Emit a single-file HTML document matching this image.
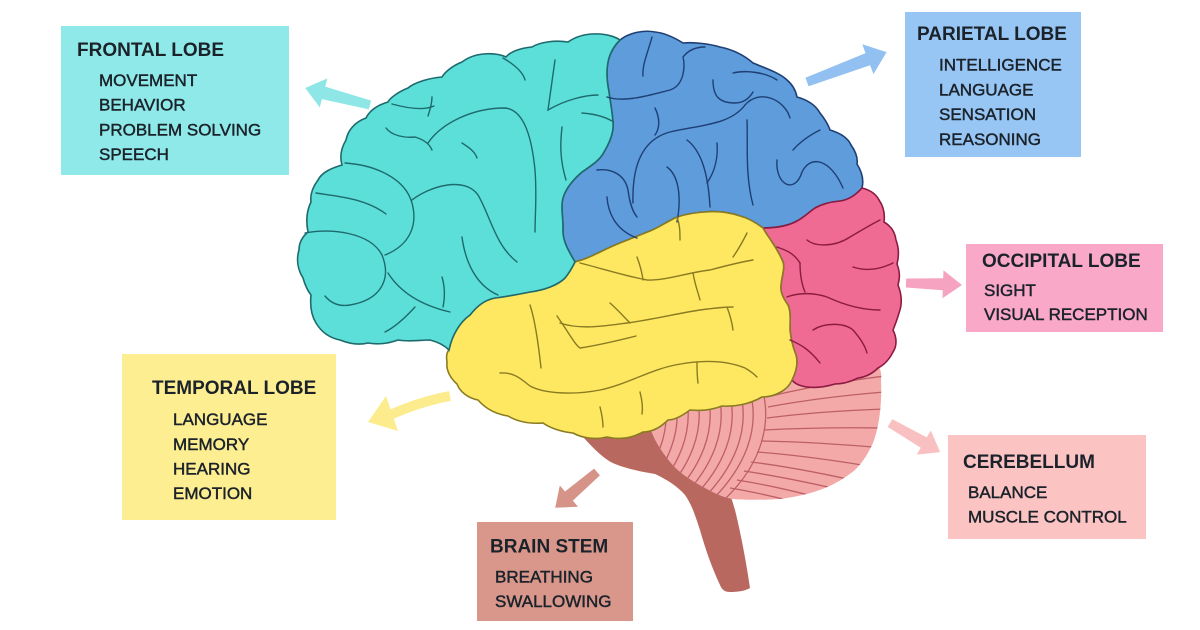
<!DOCTYPE html>
<html>
<head>
<meta charset="utf-8">
<style>
html,body{margin:0;padding:0;background:#ffffff;width:1200px;height:630px;overflow:hidden}
svg{display:block}
.t{font-family:"Liberation Sans",Arial,sans-serif;font-weight:bold;font-size:19px;fill:#1b222a}
.i{font-family:"Liberation Sans",Arial,sans-serif;font-size:17px;fill:#1b222a;stroke:#1b222a;stroke-width:0.45}
</style>
</head>
<body>
<svg width="1200" height="630" viewBox="0 0 1200 630" xmlns="http://www.w3.org/2000/svg">
<defs>
<clipPath id="cb">
<path d="M645,420 L800,370 L872,358 C880,365 882,372 881,380 C882,400 880,425 873,443 C866,458 860,465 855,470 C845,478 835,484 825,488 C810,494 795,497 780,499 C765,500 745,500 732,499 C722,497 712,492 705,488 C690,480 678,472 670,462 C662,452 656,443 652,433 Z"/>
</clipPath>
</defs>

<!-- boxes -->
<rect x="61" y="26" width="228" height="149" fill="#8fe9e9"/>
<rect x="905" y="12" width="176" height="145" fill="#97c6f5"/>
<rect x="966" y="244" width="197" height="88" fill="#f9a8c7"/>
<rect x="948" y="435" width="198" height="104" fill="#fcc3c3"/>
<rect x="122" y="354" width="214" height="166" fill="#fdef91"/>
<rect x="477" y="522" width="156" height="99" fill="#d9978b"/>

<!-- text -->
<text class="t" x="77" y="56">FRONTAL LOBE</text>
<text class="i" x="99" y="86">MOVEMENT</text>
<text class="i" x="99" y="110.7">BEHAVIOR</text>
<text class="i" x="99" y="135.3">PROBLEM SOLVING</text>
<text class="i" x="99" y="160">SPEECH</text>

<text class="t" x="917" y="40">PARIETAL LOBE</text>
<text class="i" x="939" y="70.5">INTELLIGENCE</text>
<text class="i" x="939" y="95.3">LANGUAGE</text>
<text class="i" x="939" y="120.2">SENSATION</text>
<text class="i" x="939" y="145">REASONING</text>

<text class="t" x="982" y="267">OCCIPITAL LOBE</text>
<text class="i" x="984" y="296">SIGHT</text>
<text class="i" x="984" y="320">VISUAL RECEPTION</text>

<text class="t" x="963" y="468">CEREBELLUM</text>
<text class="i" x="968" y="498">BALANCE</text>
<text class="i" x="968" y="522.5">MUSCLE CONTROL</text>

<text class="t" x="152" y="394">TEMPORAL LOBE</text>
<text class="i" x="173" y="425">LANGUAGE</text>
<text class="i" x="173" y="450">MEMORY</text>
<text class="i" x="173" y="474.5">HEARING</text>
<text class="i" x="173" y="499">EMOTION</text>

<text class="t" x="490" y="552.5">BRAIN STEM</text>
<text class="i" x="495" y="582.5">BREATHING</text>
<text class="i" x="495" y="607">SWALLOWING</text>

<!-- arrows -->
<polygon transform="translate(370,105) rotate(194.66)" points="0,-4.5 48,-6.5 48,-15 67,0 48,15 48,6.5 0,4.5" fill="#8fe6e6"/>
<polygon transform="translate(807,82) rotate(-20.56)" points="0,-4.5 65,-6.5 65,-16 85,0 65,16 65,6.5 0,4.5" fill="#92c0f1"/>
<polygon transform="translate(906,283) rotate(2)" points="0,-4.5 37,-6 37,-14 56,0 37,14 37,6 0,4.5" fill="#f6a3c2"/>
<polygon transform="translate(890,423) rotate(30.1)" points="0,-4.5 39,-6 39,-14 58,0 39,14 39,6 0,4.5" fill="#f9c0c1"/>
<polygon transform="translate(597,472) rotate(139.4)" points="0,-4.5 37,-6 37,-14 55,0 37,14 37,6 0,4.5" fill="#d69488"/>
<path d="M450,396 Q418,402 388,416" stroke="#fcec8e" stroke-width="10" fill="none"/>
<polygon points="368,422 386,396 398,431" fill="#fcec8e"/>

<!-- brain stem -->
<path d="M585,420 L583,437 C595,450 605,460 615,464 C630,470 645,472 655,474 C668,480 678,487 685,495 C692,505 695,515 700,530 C705,548 712,568 720,585 C722,590 725,592 730,592 C738,592 745,591 750,588 C746,560 740,530 735,510 C732,500 730,492 725,485 L700,460 L660,420 Z" fill="#b9685f"/>

<!-- cerebellum -->
<path d="M645,420 L800,370 L872,358 C880,365 882,372 881,380 C882,400 880,425 873,443 C866,458 860,465 855,470 C845,478 835,484 825,488 C810,494 795,497 780,499 C765,500 745,500 732,499 C722,497 712,492 705,488 C690,480 678,472 670,462 C662,452 656,443 652,433 Z" fill="#f3a9a7"/>
<g clip-path="url(#cb)" stroke="#bd5f67" stroke-width="1.3" fill="none">
<path d="M763,392 C770,420 765,460 726,498"/>
<path d="M665,400 C670,430 660,465 625,500"/>
<path d="M676,400 C681,430 671,465 636,500"/>
<path d="M687,400 C692,430 682,465 647,500"/>
<path d="M698,400 C703,430 693,465 658,500"/>
<path d="M709,400 C714,430 704,465 669,500"/>
<path d="M720,400 C725,430 715,465 680,500"/>
<path d="M731,400 C736,430 726,465 691,500"/>
<path d="M742,400 C747,430 737,465 702,500"/>
<path d="M752,400 C757,430 747,465 712,500"/>
<path d="M767,397 Q820,384 885,376"/>
<path d="M768,407 Q822,397 885,392"/>
<path d="M767,418 Q822,411 885,409"/>
<path d="M764,430 Q820,427 885,428"/>
<path d="M761,441 Q815,442 885,448"/>
<path d="M757,452 Q810,456 880,468"/>
<path d="M751,462 Q800,468 870,484"/>
<path d="M744,471 Q790,478 850,492"/>
<path d="M737,480 Q775,486 820,498"/>
<path d="M730,488 Q760,493 795,502"/>
</g>

<!-- blue (parietal) -->
<path d="M620,40 C630,32 645,30 655,32 C665,33 675,38 683,43 C695,42 710,44 720,47 C735,50 745,56 753,63 C765,68 780,73 787,80 C793,85 796,92 797,97 C808,100 816,106 820,113 C824,118 828,124 830,130 C840,133 848,138 851,145 C856,152 858,158 857,164 C862,172 864,180 862,188 C855,196 848,200 840,201 C830,202 822,204 815,208 C808,213 803,218 797,221 C788,226 775,228 763,228 C755,222 748,218 740,216 C728,212 715,211 705,212 C692,213 682,215 675,218 C665,223 658,228 650,231 C640,235 630,239 620,243 C605,249 595,255 587,258 C582,260 578,261 575,262 C568,250 562,240 563,228 C563,215 560,205 564,195 C568,185 575,178 582,172 C592,165 600,160 604,152 C610,142 614,132 613,122 C612,110 610,100 609,92 C607,82 606,72 608,62 C610,52 615,45 620,40 Z" fill="#5e9cdb" stroke="#1e3f74" stroke-width="1.6"/>

<!-- pink (occipital) -->
<path d="M862,188 C870,190 876,194 879,200 C884,207 885,214 884,222 C891,226 895,232 896,240 C899,248 899,256 897,264 C900,272 900,278 898,285 C902,295 902,305 899,313 C897,320 895,325 893,330 C897,338 897,346 893,352 C889,360 884,365 878,368 C872,374 866,377 858,378 C850,382 842,384 835,384 C825,387 815,388 807,387 C800,386 795,384 792,380 C797,370 798,362 796,355 C792,345 791,338 790,330 C790,320 791,312 788,305 C783,298 780,292 781,285 C782,275 785,268 783,262 C780,255 776,248 772,242 C768,236 765,232 763,228 C775,228 788,226 797,221 C803,218 808,213 815,208 C822,204 830,202 840,201 C848,200 855,196 862,188 Z" fill="#f06b94" stroke="#8c1b42" stroke-width="1.6"/>

<!-- yellow (temporal) -->
<path d="M575,262 C578,261 582,260 587,258 C595,255 605,249 620,243 C630,239 640,235 650,231 C658,228 665,223 675,218 C682,215 692,213 705,212 C715,211 728,212 740,216 C748,218 755,222 763,228 C765,232 768,236 772,242 C776,248 780,255 783,262 C785,268 782,275 781,285 C780,292 783,298 788,305 C791,312 790,320 790,330 C791,338 792,345 796,355 C798,362 797,370 792,380 C788,390 775,397 762,397 C750,404 735,407 722,406 C712,410 700,411 690,410 C682,416 675,420 668,420 C660,428 652,432 643,432 C632,438 620,440 607,437 C595,440 582,438 573,433 C562,432 550,428 543,423 C530,424 518,422 508,416 C495,414 485,408 478,400 C468,398 460,392 457,384 C450,378 446,370 447,362 C446,356 447,352 449,350 C452,335 460,322 470,315 C478,305 485,300 495,298 C510,296 520,294 530,292 C545,290 558,285 565,278 C570,272 573,266 575,262 Z" fill="#fee862" stroke="#8a7b22" stroke-width="1.6"/>

<!-- cyan (frontal) -->
<path d="M620,40 C610,33 585,30 568,42 C555,40 540,42 532,47 C520,48 510,52 506,57 C495,52 475,52 462,62 C452,66 445,72 442,77 C430,78 415,82 408,88 C398,92 390,98 388,102 C378,105 370,110 366,118 C355,122 348,130 346,140 C340,150 340,158 342,165 C332,168 322,172 318,180 C312,188 310,195 311,202 C306,212 306,222 308,232 C302,237 299,243 299,250 C296,260 298,270 303,278 C305,285 307,290 311,295 C310,305 311,315 316,323 C322,333 330,338 340,340 C350,344 360,345 368,343 C380,345 390,343 398,340 C410,342 420,340 430,340 C438,342 444,345 449,350 C452,335 460,322 470,315 C478,305 485,300 495,298 C510,296 520,294 530,292 C545,290 558,285 565,278 C570,272 573,266 575,262 C568,250 562,240 563,228 C563,215 560,205 564,195 C568,185 575,178 582,172 C592,165 600,160 604,152 C610,142 614,132 613,122 C612,110 610,100 609,92 C607,82 606,72 608,62 C610,52 615,45 620,40 Z" fill="#5ddfd9" stroke="#1e6a6c" stroke-width="1.6"/>

<!-- cyan sulci -->
<g stroke="#1e6a6c" stroke-width="1.4" fill="none" stroke-linecap="round">
<path d="M316,193 C335,196 365,198 386,214"/>
<path d="M345,163 C375,165 405,178 412,203 C418,225 410,245 385,255"/>
<path d="M305,233 C330,228 370,232 382,255 C392,280 380,300 350,305 C338,307 330,302 325,296"/>
<path d="M388,273 C400,292 420,305 450,312"/>
<path d="M412,200 C430,186 465,176 478,195 C490,215 495,245 517,262"/>
<path d="M462,237 C465,260 475,285 498,295"/>
<path d="M428,143 C440,125 470,108 505,108 C525,110 532,140 535,170 C537,195 535,215 535,232"/>
<path d="M386,128 C392,136 405,138 415,137 C425,140 430,145 432,150"/>
<path d="M392,104 C410,109 425,110 434,106"/>
<path d="M432,97 C432,103 430,110 428,116"/>
<path d="M503,58 C515,65 523,72 525,80"/>
<path d="M555,60 C553,75 550,95 548,110 C565,100 585,95 598,95"/>
<path d="M582,113 C595,114 605,117 612,121"/>
<path d="M562,127 C560,145 560,160 566,180"/>
<path d="M462,143 C470,148 475,152 477,158"/>
<path d="M415,307 C405,318 395,327 385,332"/>
<path d="M442,277 C445,287 445,297 443,307"/>
</g>

<!-- blue sulci -->
<g stroke="#1e3f74" stroke-width="1.4" fill="none" stroke-linecap="round">
<path d="M607,97 C625,103 650,95 670,90 C685,85 685,65 683,57 C690,48 700,47 705,47"/>
<path d="M652,37 C648,52 642,65 643,76"/>
<path d="M597,170 C612,168 625,175 628,190 C630,205 633,212 637,217"/>
<path d="M607,197 C608,212 615,230 637,238"/>
<path d="M633,203 C632,170 640,140 670,132 C700,125 730,125 745,105 C760,88 785,100 790,118"/>
<path d="M667,167 C678,175 682,195 677,222"/>
<path d="M687,140 C700,150 708,170 710,207"/>
<path d="M717,143 C718,155 716,170 707,183"/>
<path d="M747,120 C748,145 745,175 753,205"/>
<path d="M713,80 C713,95 718,103 735,103 C745,103 750,97 753,92"/>
<path d="M733,73 C745,70 765,72 777,80"/>
<path d="M777,160 C775,185 795,195 802,172 C810,155 830,158 843,188"/>
<path d="M793,150 C800,142 810,135 820,130"/>
<path d="M655,108 C660,118 660,128 655,135"/>
</g>

<!-- yellow sulci -->
<g stroke="#8a7b22" stroke-width="1.4" fill="none" stroke-linecap="round">
<path d="M580,263 C600,268 625,276 647,280 C665,281 690,272 710,270 C725,266 740,262 753,260"/>
<path d="M637,257 C640,265 642,272 643,280"/>
<path d="M677,217 C680,225 680,232 680,240"/>
<path d="M747,233 C742,243 738,250 733,257"/>
<path d="M693,273 C695,285 698,292 700,300"/>
<path d="M560,323 C580,330 605,326 627,323 C650,320 680,313 700,310 C715,308 725,307 733,307"/>
<path d="M610,303 C618,310 625,318 630,323"/>
<path d="M727,307 C730,315 732,322 733,330"/>
<path d="M500,373 C515,372 522,380 530,386 C545,394 575,395 600,390 C625,385 650,370 675,365 C700,360 725,360 745,368 C752,372 755,375 757,377"/>
<path d="M697,362 C697,370 697,376 698,383"/>
<path d="M557,316 C567,330 575,345 580,348 C600,345 620,340 636,336"/>
<path d="M530,305 C535,320 538,340 541,368"/>
<path d="M600,407 C602,415 603,420 603,427"/>
<path d="M640,392 C642,400 643,408 642,414"/>
</g>

<!-- pink sulci -->
<g stroke="#8c1b42" stroke-width="1.4" fill="none" stroke-linecap="round">
<path d="M807,240 C815,247 835,247 850,237 C862,230 870,225 880,220"/>
<path d="M777,247 C785,250 793,252 800,263"/>
<path d="M853,267 C862,270 875,272 893,263"/>
<path d="M787,297 C800,292 815,293 827,297 C840,303 860,310 880,310"/>
<path d="M813,330 C825,322 845,323 853,330 C860,338 865,345 867,353"/>
<path d="M790,340 C800,344 810,350 820,363"/>
<path d="M800,263 C800,275 802,285 805,292"/>
</g>
</svg>
</body>
</html>
